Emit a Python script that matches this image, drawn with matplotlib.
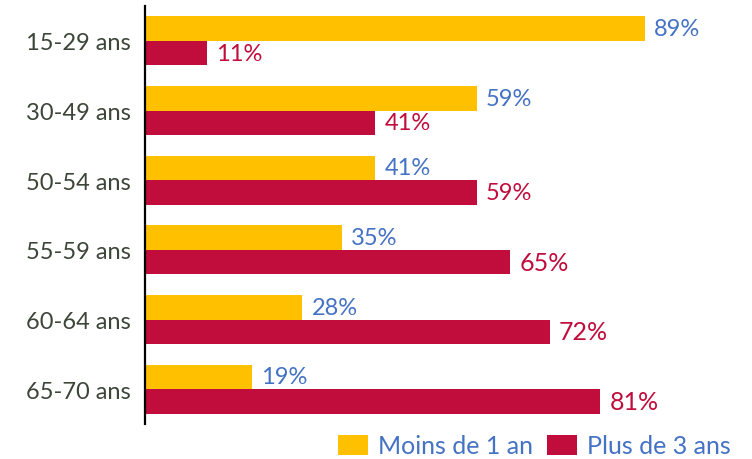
import matplotlib.pyplot as plt
import numpy as np

ages = ['15-29 ans', '30-49 ans', '50-54 ans', '55-59 ans', '60-64 ans', '65-70 ans']
moins_1an = [89, 59, 41, 35, 28, 19]      # Moins de 1 an
plus_3ans = [11, 41, 59, 65, 72, 81]      # Plus de 3 ans

yellow = '#FFC000'
red = '#C00D3C'
blue = '#4472C4'
grey = '#3C4638'

plt.rcParams['font.family'] = ['Lato', 'DejaVu Sans']

fig = plt.figure(figsize=(7.52, 4.6), dpi=100)
ax = fig.add_axes([145/752, 35/460, 607/752, 418/460])

y = np.arange(len(ages))
h = 0.35
b1 = ax.barh(y - h/2, moins_1an, height=h, color=yellow, label='Moins de 1 an')
b2 = ax.barh(y + h/2, plus_3ans, height=h, color=red, label='Plus de 3 ans')

ax.set_ylim(5.5, -0.5)
ax.set_xlim(0, 108)
ax.set_yticks(y, ages, color=grey, fontsize=17)
ax.tick_params(axis='y', length=0, pad=10.5)
ax.set_xticks([])
for s in ['top', 'right', 'bottom']:
    ax.spines[s].set_visible(False)
ax.spines['left'].set_linewidth(1.6)

ax.bar_label(b1, labels=[f'{v}%' for v in moins_1an], padding=6.5, color=blue, fontsize=17)
t2 = ax.bar_label(b2, labels=[f'{v}%' for v in plus_3ans], padding=6.5, color=red, fontsize=17)
for t in t2[3:]:
    t.set_fontsize(18)

fig.legend(handles=[b1, b2], loc='center left', bbox_to_anchor=(338/752, 13/460),
           frameon=False, fontsize=18, ncol=2, borderpad=0, borderaxespad=0,
           handlelength=1.2, handleheight=0.9, handletextpad=0.4, columnspacing=0.55,
           labelcolor=blue)

fig.savefig('out.png', dpi=100)
